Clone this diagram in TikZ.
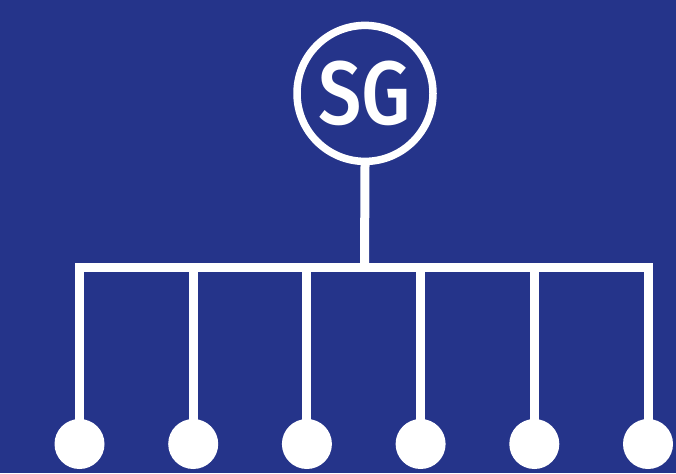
\documentclass[tikz,border=0pt]{standalone}
\usepackage{fontspec}
\newfontfamily\sgfont{Fira Sans Medium}
\definecolor{bg}{RGB}{37,52,138}
\begin{document}
\begin{tikzpicture}[x=1pt,y=-1pt,
  wire/.style={draw=white,line width=9pt,line join=miter},
  dot/.style={circle,fill=white,minimum size=50pt,inner sep=0pt},
  hub/.style={circle,draw=white,line width=7.5pt,minimum size=136pt,inner sep=0pt,text=white}]
\fill[bg] (0,0) rectangle (676,473);
\useasboundingbox (0,0) rectangle (676,473);
\node[hub] (sg) at (365,93.4) {\sgfont\fontsize{90}{90}\selectfont\scalebox{0.86}[1]{SG}};
\foreach \i/\x in {1/79.5,2/193.2,3/306.9,4/420.6,5/534.3,6/648}{
  \node[dot] (d\i) at (\x,444) {};
  \coordinate (b\i) at (\x,267.5);
}
\coordinate (bs) at (364.5,267.5);
\draw[wire] (sg.south) -- (bs);
\draw[wire] (d1.center) -- (b1) -- (b6) -- (d6.center);
\foreach \i in {2,3,4,5}{\draw[wire] (b\i) -- (d\i.center);}
\end{tikzpicture}
\end{document}
